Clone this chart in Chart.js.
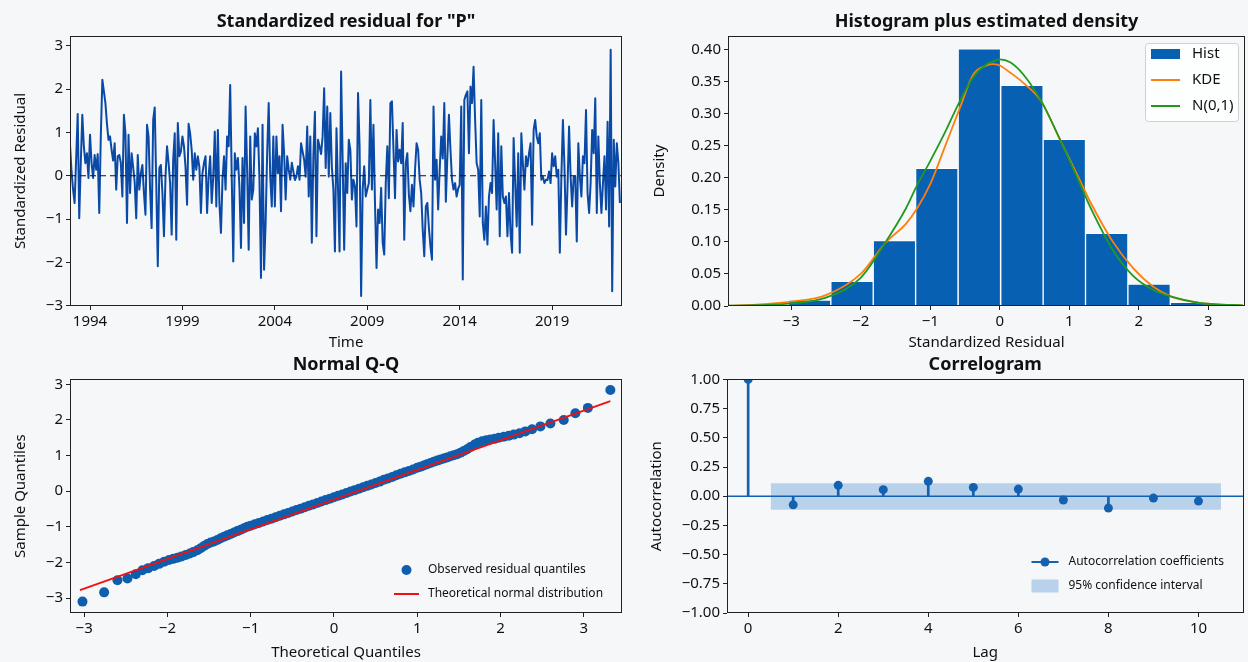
<!DOCTYPE html>
<html>
<head>
<meta charset="utf-8">
<title>Residual diagnostics</title>
<script src="https://cdn.jsdelivr.net/npm/chart.js@4.4.1/dist/chart.umd.min.js"></script>
<style>
  html, body { margin: 0; padding: 0; background: #f6f7f8; }
  body { width: 1248px; height: 662px; position: relative; overflow: hidden; }
  canvas { position: absolute; }
</style>
</head>
<body>
<canvas id="resid" width="640" height="352" style="left:0;top:0"></canvas>
<canvas id="hist" width="608" height="352" style="left:640px;top:0"></canvas>
<canvas id="qq" width="640" height="312" style="left:0;top:350px"></canvas>
<canvas id="acf" width="608" height="312" style="left:640px;top:350px"></canvas>
<script>
// monthly standardized residuals, first value is Dec 1992
const residStartYear = 1992;
const residStartMonth = 11;
const residuals = [
  0.72, 0.1, -0.32, -0.63, 0.4, 1.43, -0.98, 0.3, 1.41, 0.68, 0.29, 0.52, -0.05, 0.95, 0.3, -0.05, 0.48, 0.14, 0.5, -0.86, 0.9, 2.22,
  1.95, 1.68, 1.2, 0.83, 0.91, 0.6, 0.35, 0.75, -0.32, 0.45, 0.48, 0.3, -0.48, 1.41, 0.98, -1.09, 0.95, -0.4, 0.52, 0.2,
  -0.15, -0.98, 0.48, -0.32, 0.06, 0.25, -0.4, -0.9, 1.18, 0.91, -0.32, -1.21, 1.29, 1.58, -0.17, -2.09,
  0.18, 0.25, -0.4, -1.4, -0.02, 0.68, 0.3, -0.17, -1.36, 0.37, 0.98, -1.48, 1.22, 0.45, 0.56, 0.91, 0.68, 0.2, -0.67, 1.2,
  0.98, 0.6, -0.09, 0.52, 0.14, 0.45, 0.2, -0.86, 0.06, 0.3, 0.45,
  // 2000 - 2007
  -0.86, -0.02, 0.45, -0.63, -0.02, 1.02, -0.71, 1.06, -0.63, -1.32, -0.09, 0.45, -0.32, 0.91, 0.68, 2.1, -0.02, -1.98,
  0.52, 0.14, 0.41, -0.25, -1.67, 0.41, -1.09, 1.6, 0.14, -1.71, 0.91, -0.55, -0.32, 0.98, 0.68, 1.1, -0.09, -2.36,
  1.18, -2.17, -1.09, 0.52, 1.68, -0.02, -0.71, 0.91, -0.71, 0.91, 0.06, 0.45, -0.82, 1.18, 0.52, -0.55, 0.45, 0.14,
  -0.09, 0.3, 0.1, -0.1, -0.02, 0.22, -0.09, 0.75, 0.56, 0.37, -0.02, 1.14, -0.48, 0.91, -1.55, 0.45, 1.48, -1.4,
  0.83, 0.68, 0.5, 0.91, 2.02, 0.18, 1.6, -0.02, 1.45, 0.2, -0.32, -1.75, 1.1, -0.3, -1.75, 2.41,
  // 2007 - 2015
  0.37, -1.71, 0.29, -0.4, 0.83, 0.6, -0.55, -0.09, -0.25, -1.17, 1.91, 0.68, -2.78, -0.32, 0.22, -0.48, -0.32, -0.17,
  1.75, -0.32, 1.18, -0.63, -2.13, -0.78, -1.09, -0.28, -1.55, -1.82, -0.17, 0.68, -0.52, 1.68, 1.72, 0.6, -0.52, 1.06,
  0.33, 0.6, 0.29, 1.22, -1.48, 0.29, 0.52, -0.44, -0.82, -0.21, -0.71, 0.14, 0.75, 0.6, -0.09,
  -0.4, -1.25, -1.86, -0.71, -0.63, -1.2, -1.63, -1.94, 1.6, -0.09, 0.37, -0.78, 0.14, 0.91, 0.4, 1.68, -0.6, 0.45,
  1.41, 0.6, -0.09, -0.32, -0.17, -0.48, -0.3, -0.21, 1.6, -2.4,
  1.75, 1.87, 1.95, 0.52, 2.06, 1.68, 2.52, 1.29, 0.29, 0.14, -0.94, 1.75,
  // 2015 - 2022
  -1.09, -1.48, -0.71, -1.59, -0.48, -0.17, -0.4, 1.29, 0.29, -0.78, 0.98, -1.4, 0.68, -0.48, -0.63, -0.48, -1.4, -0.4,
  -1.32, -1.78, 0.87, -0.17, -1.17, 0.52, -1.78, 0.98, 0.29, -0.32, 0.45, 0.22, 0.52, 0.75, -1.13, 1.06, 1.29, 0.91,
  0.75, 0.98, -0.09, -0.02, -0.17, -0.09, -0.1, 0.1, -0.17, 0.52, 0.22, 0.45, -0.02, 0.14, -1.78, -0.02, 1.29, 0.22,
  -1.36, -0.25, 1.14, -0.02, -0.71, -0.02, -0.02, -1.52, 0.75, -0.02, -0.48, 0.45, 0.29, 1.52, -0.4, -0.86, -0.17, 1.06,
  0.52, 1.79, -0.86, 0.91, -0.17, -0.86, -0.17, 0.45, -0.78, 1.25, -1.17, 2.91, -2.67, 0.83, -0.25, 0.75, 0.3, -0.63,
];
const yearTicks = [1994, 1999, 2004, 2009, 2014, 2019];
const residTicks = [-3, -2, -1, 0, 1, 2, 3];

// histogram of the residuals (density) with KDE and normal curve
const histEdges = [-3.04, -2.43, -1.82, -1.21, -0.6, 0.015, 0.625, 1.235, 1.845, 2.455, 3.065];
const histDensity = [0.0094, 0.0385, 0.102, 0.2146, 0.401, 0.344, 0.26, 0.1135, 0.034, 0.0057];
const curveX = [-3.9, -3.5, -3.0, -2.5, -2.0, -1.64, -1.35, -1.19, -1.0, -0.8, -0.58, -0.38, -0.19, -0.1, 0, 0.15, 0.34, 0.6, 0.87, 1.15, 1.3, 1.63, 1.92, 2.21, 2.47, 2.83, 3.07, 3.5];
const kdeY = [0.0005, 0.002, 0.0068, 0.017, 0.05, 0.099, 0.128, 0.152, 0.19, 0.245, 0.307, 0.361, 0.375, 0.377, 0.375, 0.364, 0.348, 0.319, 0.259, 0.197, 0.163, 0.1, 0.059, 0.03, 0.0146, 0.0057, 0.003, 0.001];
const normY = [0.0005, 0.0012, 0.004, 0.013, 0.044, 0.1, 0.152, 0.188, 0.226, 0.268, 0.318, 0.357, 0.377, 0.381, 0.3845, 0.38, 0.361, 0.319, 0.259, 0.192, 0.155, 0.087, 0.047, 0.025, 0.0146, 0.0057, 0.003, 0.001];
const histXTicks = [-3, -2, -1, 0, 1, 2, 3];
const densityTicks = [0, 0.05, 0.1, 0.15, 0.2, 0.25, 0.3, 0.35, 0.4];

// normal Q-Q
const qqTheory = [
  -3.02, -2.76, -2.6, -2.48, -2.38, -2.3, -2.23, -2.16, -2.1, -2.04, -1.98, -1.93, -1.88, -1.83, -1.78, -1.73, -1.69, -1.64,
  -1.6, -1.56, -1.52, -1.48, -1.44, -1.4, -1.36, -1.32, -1.28, -1.24, -1.2, -1.16, -1.12, -1.08, -1.04, -1.0, -0.95, -0.9,
  -0.85, -0.8, -0.75, -0.7, -0.65, -0.6, -0.55, -0.5, -0.45, -0.4, -0.35, -0.3, -0.25, -0.2, -0.15, -0.1, -0.05, 0,
  0.05, 0.1, 0.15, 0.2, 0.25, 0.3, 0.35, 0.4, 0.45, 0.5, 0.55, 0.6, 0.65, 0.7, 0.75, 0.8, 0.85, 0.9, 0.95, 1.0,
  1.04, 1.08, 1.12, 1.16, 1.2, 1.24, 1.28, 1.32, 1.36, 1.4, 1.44, 1.48, 1.52, 1.56, 1.6, 1.64, 1.69, 1.73, 1.78, 1.83,
  1.88, 1.93, 1.98, 2.04, 2.1, 2.16, 2.23, 2.3, 2.38, 2.48, 2.6, 2.76, 2.9, 3.05, 3.32,
];
const qqSample = [
  -3.1, -2.84, -2.5, -2.45, -2.33, -2.22, -2.16, -2.1, -2.04, -1.98, -1.93, -1.9, -1.87, -1.83, -1.79, -1.75, -1.71, -1.66,
  -1.6, -1.54, -1.48, -1.44, -1.41, -1.37, -1.32, -1.28, -1.24, -1.2, -1.16, -1.12, -1.08, -1.04, -1.0, -0.97, -0.93, -0.89,
  -0.85, -0.81, -0.77, -0.73, -0.69, -0.65, -0.61, -0.57, -0.53, -0.49, -0.45, -0.41, -0.37, -0.33, -0.29, -0.25, -0.21, -0.17,
  -0.13, -0.09, -0.05, -0.01, 0.03, 0.07, 0.11, 0.15, 0.19, 0.23, 0.27, 0.32, 0.36, 0.4, 0.45, 0.49, 0.53, 0.57, 0.61, 0.66,
  0.69, 0.72, 0.76, 0.79, 0.83, 0.86, 0.89, 0.92, 0.95, 0.98, 1.01, 1.04, 1.08, 1.13, 1.18, 1.24, 1.31, 1.36, 1.4, 1.43,
  1.45, 1.47, 1.5, 1.53, 1.56, 1.59, 1.63, 1.68, 1.74, 1.82, 1.9, 2.0, 2.19, 2.34, 2.84,
];
const qqLineX = [-3.05, 3.32];
const qqLineY = [-2.78, 2.53];
const qqTicks = [-3, -2, -1, 0, 1, 2, 3];

// correlogram
const acfLags = [0, 1, 2, 3, 4, 5, 6, 7, 8, 9, 10];
const acfValues = [1.0, -0.074, 0.093, 0.056, 0.127, 0.075, 0.061, -0.033, -0.102, -0.016, -0.042];
const confLags = [0.5, 10.5];
const confUpper = [0.11, 0.11];
const confLower = [-0.115, -0.115];
const acfYTicks = [-1, -0.75, -0.5, -0.25, 0, 0.25, 0.5, 0.75, 1];
const lagTicks = [0, 2, 4, 6, 8, 10];

const FONT = '"Noto Sans", "DejaVu Sans", sans-serif';
const lineBlue = '#0a4aa6';
const barBlue = '#0860b2';
const dotBlue = '#0f5eae';
const acfBlue = '#1461b0';
const bandColor = 'rgba(40, 125, 205, 0.3)';

Chart.defaults.font.family = FONT;
Chart.defaults.color = '#111';

const minus = (s) => String(s).replace('-', '\u2212');

function axis(o) {
  const horizontal = o.position === 'bottom';
  return {
    type: 'linear',
    position: o.position,
    min: o.min,
    max: o.max,
    offset: false,
    grid: { display: true, drawOnChartArea: false, drawTicks: true, tickLength: 4, color: '#222', offset: false },
    border: { display: false },
    ticks: {
      font: { size: 15 },
      color: '#111',
      padding: 3,
      maxRotation: 0,
      autoSkip: false,
      callback: o.fmt || ((v) => minus(v)),
    },
    title: {
      display: true,
      text: o.title,
      font: { size: 15 },
      color: '#111',
      padding: horizontal ? { top: 0, bottom: 0 } : { top: o.titlePad, bottom: 0 },
    },
    afterBuildTicks: (s) => {
      s.ticks = o.ticks.map((v) => ({ value: v }));
    },
    afterFit: (s) => {
      if (horizontal) s.height = o.size;
      else s.width = o.size;
    },
  };
}

function chartTitle(text, top, bottom) {
  return {
    display: true,
    text,
    fullSize: false,
    color: '#111',
    font: { size: 18, weight: 'bold' },
    padding: { top, bottom },
  };
}

// black box around the plotting area
const framePlugin = {
  id: 'frame',
  afterDatasetsDraw(chart) {
    const { ctx, chartArea: a } = chart;
    ctx.save();
    ctx.strokeStyle = '#222';
    ctx.lineWidth = 1;
    ctx.strokeRect(Math.round(a.left) + 0.5, Math.round(a.top) + 0.5, Math.round(a.width) - 1, Math.round(a.height) - 1);
    ctx.restore();
  },
};

// small legend drawn inside the plotting area
function insetLegend(cfg) {
  return {
    id: 'insetLegend',
    afterDraw(chart) {
      const { ctx, chartArea: a } = chart;
      const x = a.right + cfg.dx;
      const y0 = (cfg.fromBottom ? a.bottom : a.top) + cfg.dy;
      ctx.save();
      if (cfg.box) {
        const b = cfg.box;
        ctx.beginPath();
        if (ctx.roundRect) ctx.roundRect(x + b.dx + 0.5, y0 + b.dy + 0.5, b.w, b.h, 3);
        else ctx.rect(x + b.dx + 0.5, y0 + b.dy + 0.5, b.w, b.h);
        ctx.fillStyle = 'rgba(255,255,255,0.8)';
        ctx.fill();
        ctx.strokeStyle = '#d0d0d0';
        ctx.lineWidth = 1;
        ctx.stroke();
      }
      ctx.font = cfg.size + 'px ' + FONT;
      ctx.textBaseline = 'middle';
      ctx.textAlign = 'left';
      cfg.items.forEach((it, i) => {
        const cy = y0 + i * cfg.gap;
        const w = cfg.handle;
        if (it.kind === 'rect') {
          ctx.fillStyle = it.color;
          ctx.fillRect(x, cy - it.h / 2, w, it.h);
        }
        if (it.kind === 'line' || it.kind === 'linedot') {
          ctx.strokeStyle = it.color;
          ctx.lineWidth = it.width || 2;
          ctx.beginPath();
          ctx.moveTo(x, cy);
          ctx.lineTo(x + w, cy);
          ctx.stroke();
        }
        if (it.kind === 'dot' || it.kind === 'linedot') {
          ctx.fillStyle = it.color;
          ctx.beginPath();
          ctx.arc(x + w / 2, cy, it.r || 4.5, 0, Math.PI * 2);
          ctx.fill();
        }
        ctx.fillStyle = '#111';
        ctx.fillText(it.label, x + cfg.textDx, cy);
      });
      ctx.restore();
    },
  };
}

const noLegend = { legend: { display: false }, tooltip: { enabled: false } };

// ---- standardized residual over time
const residX = residuals.map((v, i) => residStartYear + (residStartMonth + i) / 12);
const timeMin = 1992.917;
const timeMax = 2022.78;

new Chart(document.getElementById('resid'), {
  type: 'line',
  data: {
    datasets: [
      {
        data: [{ x: timeMin, y: 0 }, { x: timeMax, y: 0 }],
        borderColor: '#111',
        borderWidth: 1.2,
        borderDash: [6, 4],
        pointRadius: 0,
        order: 0,
      },
      {
        data: residuals.map((v, i) => ({ x: residX[i], y: v })),
        borderColor: lineBlue,
        borderWidth: 2,
        borderJoinStyle: 'round',
        pointRadius: 0,
        order: 1,
      },
    ],
  },
  options: {
    responsive: false,
    animation: false,
    layout: { padding: { right: 18 } },
    plugins: Object.assign({ title: chartTitle('Standardized residual for "P"', 11.2, 3.2) }, noLegend),
    scales: {
      x: axis({ position: 'bottom', min: timeMin, max: timeMax, ticks: yearTicks, size: 46, title: 'Time', fmt: (v) => String(v) }),
      y: axis({ position: 'left', min: -3.01, max: 3.23, ticks: residTicks, size: 70, title: 'Standardized Residual', titlePad: 12 }),
    },
  },
  plugins: [framePlugin],
});

// ---- histogram plus estimated density
const histBars = histDensity.map((d, i) => ({ x: (histEdges[i] + histEdges[i + 1]) / 2, y: d }));

new Chart(document.getElementById('hist'), {
  type: 'bar',
  data: {
    datasets: [
      {
        label: 'Hist',
        data: histBars,
        backgroundColor: barBlue,
        borderColor: '#ffffff',
        borderWidth: 1,
        barPercentage: 1,
        categoryPercentage: 1,
        order: 3,
      },
      {
        type: 'line',
        label: 'KDE',
        data: curveX.map((x, i) => ({ x, y: kdeY[i] })),
        borderColor: '#ff7f0e',
        borderWidth: 1.8,
        pointRadius: 0,
        cubicInterpolationMode: 'monotone',
        order: 2,
      },
      {
        type: 'line',
        label: 'N(0,1)',
        data: curveX.map((x, i) => ({ x, y: normY[i] })),
        borderColor: '#1f9a1f',
        borderWidth: 1.8,
        pointRadius: 0,
        cubicInterpolationMode: 'monotone',
        order: 1,
      },
    ],
  },
  options: {
    responsive: false,
    animation: false,
    layout: { padding: { right: 3 } },
    plugins: Object.assign({ title: chartTitle('Histogram plus estimated density', 11.2, 3.2) }, noLegend),
    scales: {
      x: axis({ position: 'bottom', min: -3.91, max: 3.53, ticks: histXTicks, size: 46, title: 'Standardized Residual' }),
      y: axis({ position: 'left', min: 0, max: 0.421, ticks: densityTicks, size: 88, title: 'Density', titlePad: 10.5, fmt: (v) => v.toFixed(2) }),
    },
  },
  plugins: [
    framePlugin,
    insetLegend({
      dx: -94, dy: 18, gap: 26, handle: 29, textDx: 41, size: 15,
      box: { dx: -6, dy: -11, w: 93, h: 78 },
      items: [
        { label: 'Hist', kind: 'rect', color: barBlue, h: 10 },
        { label: 'KDE', kind: 'line', color: '#ff7f0e' },
        { label: 'N(0,1)', kind: 'line', color: '#1f9a1f' },
      ],
    }),
  ],
});

// ---- normal Q-Q
new Chart(document.getElementById('qq'), {
  type: 'scatter',
  data: {
    datasets: [
      {
        type: 'line',
        label: 'Theoretical normal distribution',
        data: qqLineX.map((x, i) => ({ x, y: qqLineY[i] })),
        borderColor: '#f01010',
        borderWidth: 1.8,
        pointRadius: 0,
        order: 0,
      },
      {
        label: 'Observed residual quantiles',
        data: qqTheory.map((x, i) => ({ x, y: qqSample[i] })),
        backgroundColor: dotBlue,
        borderWidth: 0,
        pointRadius: 5,
        order: 1,
      },
    ],
  },
  options: {
    responsive: false,
    animation: false,
    layout: { padding: { right: 18 } },
    plugins: Object.assign({ title: chartTitle('Normal Q-Q', 3.9, 3.9) }, noLegend),
    scales: {
      x: axis({ position: 'bottom', min: -3.17, max: 3.46, ticks: qqTicks, size: 49, title: 'Theoretical Quantiles' }),
      y: axis({ position: 'left', min: -3.42, max: 3.14, ticks: qqTicks, size: 70, title: 'Sample Quantiles', titlePad: 12 }),
    },
  },
  plugins: [
    framePlugin,
    insetLegend({
      dx: -228, dy: -43, fromBottom: true, gap: 24, handle: 25, textDx: 34, size: 12,
      items: [
        { label: 'Observed residual quantiles', kind: 'dot', color: dotBlue, r: 5 },
        { label: 'Theoretical normal distribution', kind: 'line', color: '#f01010' },
      ],
    }),
  ],
});

// ---- correlogram
const lagMin = -0.47;
const lagMax = 11.0;

new Chart(document.getElementById('acf'), {
  type: 'bar',
  data: {
    datasets: [
      {
        label: 'Autocorrelation coefficients',
        type: 'line',
        data: acfLags.map((x, i) => ({ x, y: acfValues[i] })),
        showLine: false,
        pointRadius: 4.5,
        pointBackgroundColor: acfBlue,
        pointBorderWidth: 0,
        clip: 0,
        order: 1,
      },
      {
        data: acfLags.map((x, i) => ({ x, y: acfValues[i] })),
        backgroundColor: acfBlue,
        barThickness: 2,
        order: 2,
      },
      {
        type: 'line',
        data: [{ x: lagMin, y: 0 }, { x: lagMax, y: 0 }],
        borderColor: acfBlue,
        borderWidth: 1.6,
        pointRadius: 0,
        order: 2,
      },
      {
        label: '95% confidence interval',
        type: 'line',
        data: confLags.map((x, i) => ({ x, y: confUpper[i] })),
        borderWidth: 0,
        pointRadius: 0,
        backgroundColor: bandColor,
        fill: '+1',
        order: 5,
      },
      {
        type: 'line',
        data: confLags.map((x, i) => ({ x, y: confLower[i] })),
        borderWidth: 0,
        pointRadius: 0,
        fill: false,
        order: 5,
      },
    ],
  },
  options: {
    responsive: false,
    animation: false,
    layout: { padding: { right: 4 } },
    plugins: Object.assign({ title: chartTitle('Correlogram', 3.9, 3.9) }, noLegend),
    scales: {
      x: axis({ position: 'bottom', min: lagMin, max: lagMax, ticks: lagTicks, size: 49, title: 'Lag' }),
      y: axis({ position: 'left', min: -1, max: 1, ticks: acfYTicks, size: 87, title: 'Autocorrelation', titlePad: 8, fmt: (v) => minus(v.toFixed(2)) }),
    },
  },
  plugins: [
    framePlugin,
    insetLegend({
      dx: -212, dy: -51, fromBottom: true, gap: 24, handle: 27, textDx: 37, size: 12,
      items: [
        { label: 'Autocorrelation coefficients', kind: 'linedot', color: acfBlue },
        { label: '95% confidence interval', kind: 'rect', color: bandColor, h: 13 },
      ],
    }),
  ],
});
</script>
</body>
</html>
